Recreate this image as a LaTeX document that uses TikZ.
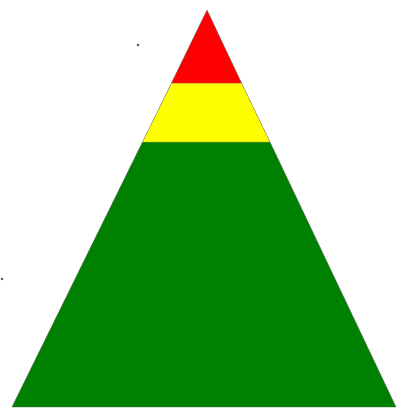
\documentclass[tikz,border=0pt]{standalone}
\begin{document}
\begin{tikzpicture}[x=1pt,y=-1pt,
  band/.style={draw=black!55,line width=0.4pt,line join=round},
  speck/.style={fill=black!70}]
\useasboundingbox (0,0) rectangle (396,408);
\fill[white] (0,0) rectangle (396,408);
\coordinate (apex) at (207,10);
\coordinate (r1) at (171.5,83);
\coordinate (r2) at (241.5,83);
\coordinate (y1) at (142.5,142);
\coordinate (y2) at (270,142);
\coordinate (bl) at (12,407);
\coordinate (br) at (396,407);
\filldraw[band,fill={rgb,255:red,0;green,128;blue,0}] (y1) -- (y2) -- (br) -- (bl) -- cycle;
\filldraw[band,fill={rgb,255:red,255;green,255;blue,0}] (r1) -- (r2) -- (y2) -- (y1) -- cycle;
\filldraw[band,fill={rgb,255:red,255;green,0;blue,0}] (apex) -- (r2) -- (r1) -- cycle;
\fill[speck] (138,45) circle (1.4);
\fill[speck] (2,279) circle (1.4);
\end{tikzpicture}
\end{document}
